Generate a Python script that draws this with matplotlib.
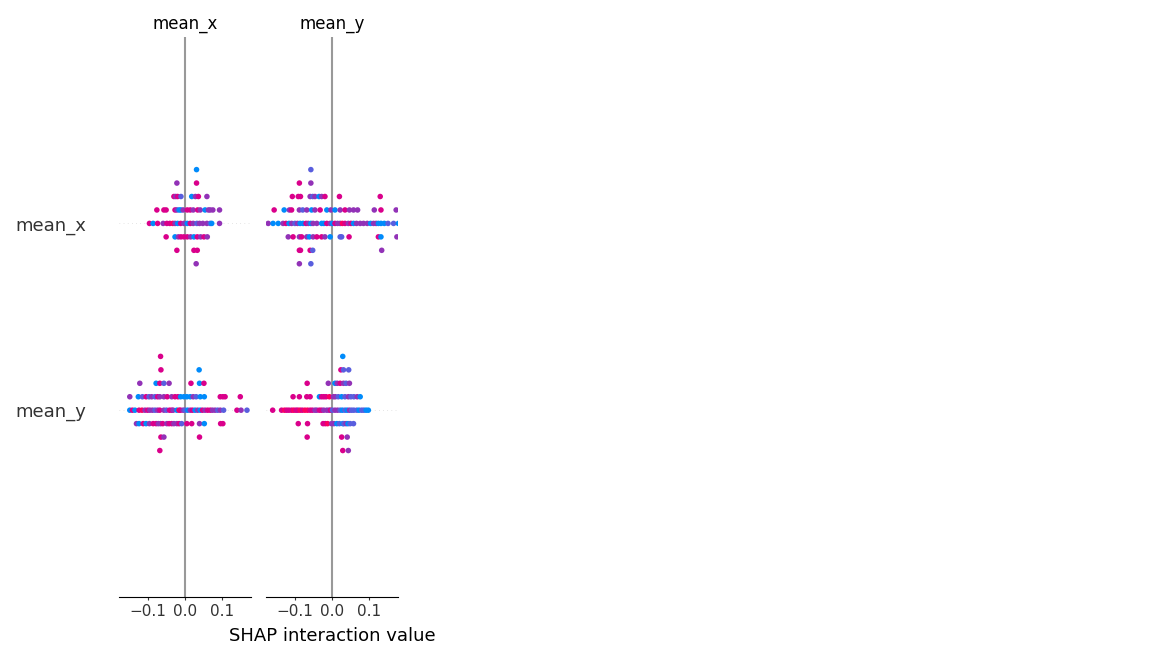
import numpy as np
import matplotlib
matplotlib.use("Agg")
import matplotlib.pyplot as plt
from matplotlib.colors import LinearSegmentedColormap

# SHAP interaction summary, 2 features -> 2x2 panels (row feature x column feature)
features = ["mean_x", "mean_y"]
xlabel = "SHAP interaction value"

# feature value codes (colour): b=low ... r=high
feat_code = {"b": 0.0, "v": 0.28, "p": 0.46, "m": 0.72, "r": 0.92}
# jitter layers from top to bottom, counts per layer given per panel
layers = [4, 3, 2, 1, 0, -1, -2, -3]

# ---- row mean_x, column mean_x ----
a_shap = [0.031,
          -0.022, 0.031,
          -0.030, -0.025, -0.020, -0.011, 0.018, 0.028, 0.036, 0.059,
          -0.076, -0.057, -0.051, -0.027, -0.022, -0.016, -0.011, -0.005, 0.006, 0.014, 0.022, 0.034, 0.041, 0.054, 0.063, 0.068, 0.075, 0.093,
          -0.096, -0.086, -0.074, -0.059, -0.049, -0.041, -0.033, -0.027, -0.020, -0.012, -0.003, 0.006, 0.014, 0.022, 0.032, 0.039, 0.048, 0.059, 0.068, 0.072, 0.093,
          -0.051, -0.027, -0.018, -0.011, -0.003, 0.006, 0.015, 0.024, 0.033, 0.042, 0.051, 0.060,
          -0.022, 0.024, 0.033,
          0.030]
a_count = [1, 2, 8, 18, 21, 12, 3, 1]
a_feat = ("b" "pm" "mpmvbpmp" "mmmmpbbpmmpmpbpppp" "mbmpmmrpbmpbmpvpppvbp"
          "mbpmmmpbmpmp" "mmm" "p")

# ---- row mean_x, column mean_y ----
b_shap = [-0.057,
          -0.088, -0.057,
          -0.107, -0.091, -0.085, -0.059, -0.052, -0.046, -0.035, -0.028, -0.019, 0.020, 0.130,
          -0.156, -0.129, -0.115, -0.109, -0.088, -0.079, -0.068, -0.055, -0.046, -0.032, -0.014, -0.003, 0.008, 0.022, 0.035, 0.047, 0.058, 0.069, 0.114, 0.132, 0.173,
          -0.172, -0.159, -0.145, -0.132, -0.124, -0.116, -0.109, -0.100, -0.093, -0.086, -0.078, -0.070, -0.064, -0.057, -0.051, -0.041, -0.028, -0.022, -0.014, -0.005, 0.001, 0.008, 0.015, 0.022, 0.028, 0.035, 0.044, 0.051, 0.058, 0.066, 0.076, 0.085, 0.095, 0.104, 0.112, 0.119, 0.125, 0.132, 0.141, 0.151, 0.166, 0.179,
          -0.118, -0.105, -0.088, -0.082, -0.068, -0.061, -0.051, -0.041, -0.028, -0.019, -0.005, 0.022, 0.026, 0.046, 0.125, 0.132, 0.175,
          -0.088, -0.085, -0.059, -0.052, 0.134,
          -0.088, -0.057]
b_count = [1, 2, 11, 21, 42, 17, 5, 2]
b_feat = ("v" "mp" "mmmpvpbpmmm" "mbpmpvpbpmbpbpmppppmp"
          "pbbpmbpvpbbmpbppbbmpbmpprmpmbppppbppbbbvvb"
          "pmpmpbpmmpbvvmmbp" "mmmvp" "pv")

# ---- row mean_y, column mean_x ----
c_shap = [-0.066,
          -0.065, 0.038,
          -0.122, -0.078, -0.068, -0.057, -0.043, 0.016, 0.039, 0.051,
          -0.149, -0.126, -0.115, -0.105, -0.097, -0.090, -0.081, -0.074, -0.068, -0.057, -0.048, -0.036, -0.027, -0.019, -0.012, -0.003, 0.005, 0.014, 0.022, 0.030, 0.041, 0.052, 0.095, 0.102, 0.108, 0.149,
          -0.149, -0.142, -0.135, -0.124, -0.116, -0.108, -0.101, -0.095, -0.088, -0.081, -0.074, -0.068, -0.057, -0.050, -0.042, -0.036, -0.032, -0.022, -0.016, -0.012, -0.005, 0.000, 0.007, 0.014, 0.020, 0.027, 0.034, 0.041, 0.047, 0.054, 0.061, 0.068, 0.074, 0.081, 0.088, 0.095, 0.104, 0.140, 0.151, 0.167,
          -0.131, -0.124, -0.113, -0.105, -0.096, -0.086, -0.078, -0.072, -0.066, -0.060, -0.049, -0.043, -0.036, -0.030, -0.022, -0.016, -0.009, 0.005, 0.018, 0.039, 0.052, 0.096, 0.102,
          -0.065, -0.057, 0.039,
          -0.068]
c_count = [1, 2, 8, 26, 40, 23, 3, 1]
c_feat = ("m" "mb" "pbmvpmbm" "pbvmvpvmppmpmmbbbbpvbbmmmm"
          "bmbmrpmppvpmpvmmpbrmpvbpmbpbmpmmppvpvmpv"
          "pbmbpmmppmpmmppmvmmpbmm" "mpm" "m")

# ---- row mean_y, column mean_y ----
d_shap = [0.029,
          0.024, 0.031, 0.045,
          -0.067, -0.010, 0.008, 0.014, 0.022, 0.031, 0.038, 0.047,
          -0.105, -0.088, -0.068, -0.059, -0.034, -0.028, -0.022, -0.016, -0.007, 0.004, 0.009, 0.017, 0.026, 0.035, 0.044, 0.051, 0.059, 0.068, 0.076,
          -0.160, -0.136, -0.128, -0.122, -0.116, -0.109, -0.103, -0.097, -0.092, -0.086, -0.080, -0.073, -0.066, -0.059, -0.053, -0.046, -0.041, -0.034, -0.028, -0.022, -0.014, -0.008, -0.004, 0.001, 0.008, 0.015, 0.022, 0.028, 0.035, 0.041, 0.047, 0.053, 0.059, 0.067, 0.073, 0.080, 0.086, 0.092, 0.098,
          -0.091, -0.066, -0.024, -0.018, -0.012, -0.001, 0.005, 0.013, 0.020, 0.029, 0.032, 0.038, 0.043, 0.049, 0.058,
          -0.067, 0.026, 0.041,
          0.029, 0.044]
d_count = [1, 3, 8, 19, 39, 15, 3, 2]
d_feat = ("b" "mvv" "mpbpmpvp" "mmmmbmmmrppvbvpvvpb"
          "mmrmmmrmmrmrrmmppmmpppmvppvbvbpvvvbvvbb"
          "mmmmrppbvbvpbvv" "mmp" "mp")

panels = {
    (0, 1): (a_shap, a_count, a_feat),   # column mean_x, row mean_x
    (1, 1): (b_shap, b_count, b_feat),   # column mean_y, row mean_x
    (0, 0): (c_shap, c_count, c_feat),   # column mean_x, row mean_y
    (1, 0): (d_shap, d_count, d_feat),   # column mean_y, row mean_y
}


def lch2rgb(l, c, h):
    a, b = c * np.cos(h), c * np.sin(h)
    fy = (l + 16) / 116
    fx, fz = fy + a / 500, fy - b / 200

    def finv(t):
        return t ** 3 if t ** 3 > 0.008856 else (t - 16 / 116) / 7.787
    X, Y, Z = 0.95047 * finv(fx), finv(fy), 1.08883 * finv(fz)
    M = np.array([[3.2406, -1.5372, -0.4986],
                  [-0.9689, 1.8758, 0.0415],
                  [0.0557, -0.2040, 1.0570]])
    lin = M @ np.array([X, Y, Z])
    rgb = np.where(lin > 0.0031308, 1.055 * np.abs(lin) ** (1 / 2.4) - 0.055, 12.92 * lin)
    return np.clip(rgb, 0, 1)


# shap style red-blue map, interpolated in LCH
blue_lch = [54., 70., 4.6588]
red_lch = [54., 90., 0.35470565 + 2 * np.pi]
n = 100
ls = list(np.linspace(blue_lch[0], 40., n // 2)) + list(np.linspace(40., red_lch[0], n // 2))
cs = np.linspace(blue_lch[1], red_lch[1], n)
hs = np.linspace(blue_lch[2], red_lch[2], n)
red_blue = LinearSegmentedColormap.from_list(
    "red_blue", [lch2rgb(l, c, h) for l, c, h in zip(ls, cs, hs)])

fig = plt.figure(figsize=(11.5, 6.6), dpi=100)
axis_color = "#333333"
row_step = 0.072
lefts = [0.1035, 0.2313]
for i, col in enumerate(features):
    ax = fig.add_axes([lefts[i], 0.0955, 0.1148, 0.849])
    for pos in range(len(features)):
        ax.axhline(y=pos, color="#cccccc", lw=0.5, dashes=(1, 5), zorder=-1)
    ax.axvline(x=0, color="#999999", lw=1.5, zorder=-1)
    for pos in range(len(features)):
        shap_v, count, feat = panels[(i, pos)]
        layer = np.repeat(layers, count)
        ys = pos + layer * row_step
        vals = [feat_code[k] for k in feat]
        ax.scatter(shap_v, ys, c=vals, cmap=red_blue, vmin=0, vmax=1,
                   s=16, linewidth=0, zorder=3)
    ax.set_xlim(-0.178, 0.178)
    ax.set_ylim(-1, len(features))
    ax.set_xticks([-0.1, 0.0, 0.1])
    ax.tick_params("x", labelsize=11, color=axis_color, labelcolor=axis_color,
                   length=2, pad=3)
    for s in ["left", "right", "top"]:
        ax.spines[s].set_visible(False)
    if i == 0:
        ax.set_yticks([1, 0])
        ax.set_yticklabels(features, fontsize=13, color=axis_color)
        ax.tick_params("y", length=0, pad=23.5)
    else:
        ax.set_yticks([])
    ax.set_title(col, fontsize=12)
    if i == 1:
        ax.set_xlabel(xlabel, fontsize=13, labelpad=6)

fig.savefig("out.png", dpi=100)
